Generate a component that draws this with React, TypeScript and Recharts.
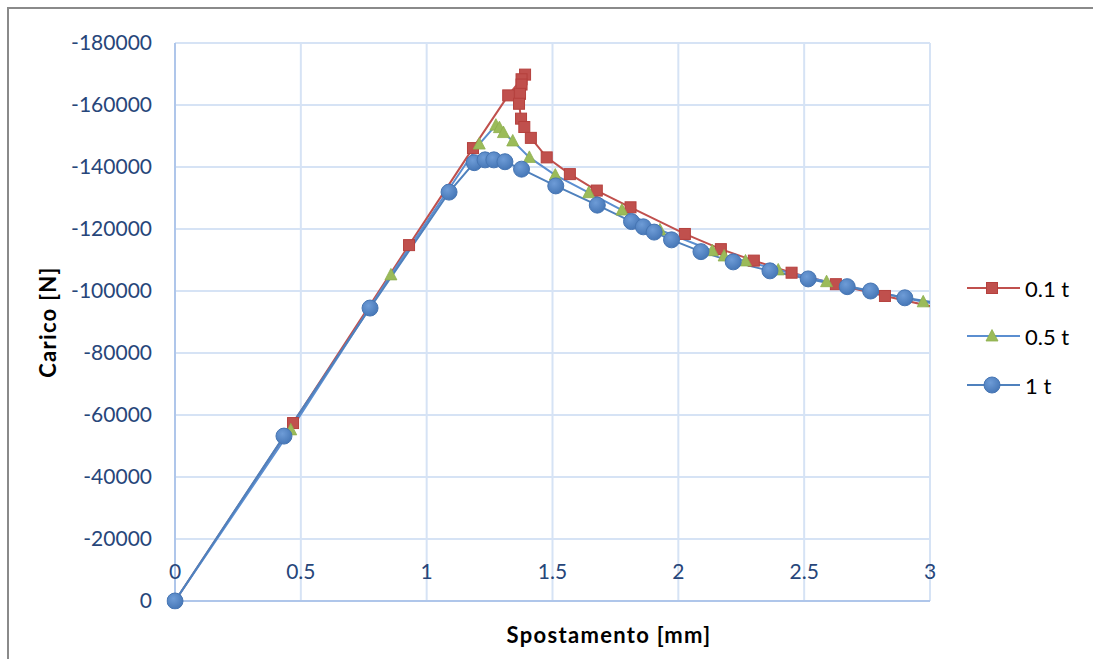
import { CartesianGrid, Line, LineChart, XAxis, YAxis } from "recharts";

// Load–displacement curves for three loading rates (load in N, negative = compression)
const DISP_01 = [0, 0.469, 0.93, 1.184, 1.324, 1.391, 1.377, 1.377, 1.371, 1.367, 1.375, 1.388, 1.414, 1.477, 1.569, 1.676, 1.81, 2.026, 2.169, 2.3, 2.45, 2.626, 2.821, 3.1];
const LOAD_01 = [0, -57400, -114800, -146100, -163100, -169800, -168300, -166600, -163600, -160400, -155600, -152900, -149400, -143100, -137700, -132400, -127000, -118400, -113500, -109800, -105900, -102200, -98400, -93300];

const DISP_05 = [0, 0.46, 0.858, 1.209, 1.275, 1.289, 1.305, 1.342, 1.408, 1.511, 1.644, 1.776, 1.927, 2.135, 2.182, 2.267, 2.397, 2.589, 2.973, 3.15];
const LOAD_05 = [0, -55200, -105200, -147400, -153500, -152700, -151100, -148400, -143100, -137400, -131700, -126100, -119700, -113000, -111300, -109700, -106800, -103000, -96500, -94200];

const DISP_1 = [0, 0.433, 0.775, 1.089, 1.189, 1.232, 1.267, 1.311, 1.377, 1.513, 1.678, 1.814, 1.861, 1.904, 1.973, 2.09, 2.218, 2.364, 2.516, 2.671, 2.764, 2.9, 3.1];
const LOAD_1 = [0, -53200, -94500, -131900, -141400, -142300, -142300, -141700, -139300, -133900, -127700, -122400, -120700, -119000, -116500, -112700, -109400, -106500, -103900, -101400, -100000, -97800, -95200];

const SERIES_NAMES = ["0.1 t", "0.5 t", "1 t"];
const X_TICKS = [0, 0.5, 1, 1.5, 2, 2.5, 3];
const Y_TICKS = [-180000, -160000, -140000, -120000, -100000, -80000, -60000, -40000, -20000, 0];

const toPoints = (xs: number[], ys: number[]) => xs.map((x, i) => ({ x, y: ys[i] }));

const data01 = toPoints(DISP_01, LOAD_01);
const data05 = toPoints(DISP_05, LOAD_05);
const data1 = toPoints(DISP_1, LOAD_1);

const FONT = "Lato, 'Open Sans', sans-serif";
const TICK_COLOR = "#27467A";
const RED = "#C0504D";
const BLUE = "#4F81BD";
const GREEN = "#9BBB59";

const W = 1085;
const H = 651;

function SquareDot(props: any) {
  const { cx, cy } = props;
  if (cx == null || cy == null) return <g />;
  return <rect x={cx - 5.5} y={cy - 5.5} width={11} height={11} fill={RED} stroke="#B5403D" strokeWidth={1} />;
}

function TriangleDot(props: any) {
  const { cx, cy } = props;
  if (cx == null || cy == null) return <g />;
  return <polygon points={`${cx},${cy - 6.5} ${cx - 6},${cy + 5} ${cx + 6},${cy + 5}`} fill={GREEN} stroke="#8DAE4C" strokeWidth={0.8} />;
}

function CircleDot({ cx, cy }: { cx: number; cy: number }) {
  return <circle cx={cx} cy={cy} r={8} fill="url(#dotBlue)" stroke="#4675B3" strokeWidth={1} />;
}

function XTick({ x, y, payload }: any) {
  return (
    <text x={x} y={y - 31} textAnchor="middle" dominantBaseline="central" fill={TICK_COLOR} fontSize={21} fontFamily={FONT}>
      {payload.value}
    </text>
  );
}

const LEGEND_ROWS = [
  { y: 280, color: RED, dot: <SquareDot cx={984} cy={280} /> },
  { y: 328, color: "#5B8ED0", dot: <TriangleDot cx={984} cy={328} /> },
  { y: 377, color: BLUE, dot: <CircleDot cx={984} cy={377} /> },
];

const TITLE_STYLE = { fontSize: 22, fontWeight: "bold" as const, fill: "#000", fontFamily: FONT, letterSpacing: 1.3 };

export default function App() {
  // fixed so the frame can run to the window edge without adding scrollbars
  return (
    <div style={{ position: "fixed", left: 8, top: 8, width: W, height: H, background: "#fff", fontFamily: FONT }}>
      <svg width={0} height={0} style={{ position: "absolute" }}>
        <defs>
          <radialGradient id="dotBlue" cx="40%" cy="35%" r="70%">
            <stop offset="0" stopColor="#6E9CD7" />
            <stop offset="1" stopColor="#4475B5" />
          </radialGradient>
        </defs>
      </svg>
      <LineChart width={W} height={H} margin={{ top: 35, right: 163, bottom: 0, left: 17 }}>
        <CartesianGrid stroke="#D6E3F5" strokeWidth={2} />
        <XAxis
          dataKey="x"
          type="number"
          domain={[0, 3]}
          allowDataOverflow
          ticks={X_TICKS}
          interval={0}
          height={58}
          tickLine={false}
          tickSize={0}
          tickMargin={0}
          axisLine={{ stroke: "#AFC6EA", strokeWidth: 2 }}
          tick={<XTick />}
        />
        <YAxis
          type="number"
          domain={[-180000, 0]}
          reversed
          ticks={Y_TICKS}
          interval={0}
          width={150}
          tickLine={false}
          tickSize={0}
          tickMargin={23}
          axisLine={{ stroke: "#AFC6EA", strokeWidth: 2 }}
          tick={{ fill: TICK_COLOR, fontSize: 21, fontFamily: FONT }}
        />
        <Line
          data={data01}
          dataKey="y"
          name={SERIES_NAMES[0]}
          stroke={RED}
          strokeWidth={2}
          dot={(p: any) => <SquareDot key={`s-${p.index}`} {...p} />}
          activeDot={false}
          isAnimationActive={false}
        />
        <Line
          data={data05}
          dataKey="y"
          name={SERIES_NAMES[1]}
          stroke="#5B8ED0"
          strokeWidth={2}
          dot={(p: any) => <TriangleDot key={`t-${p.index}`} {...p} />}
          activeDot={false}
          isAnimationActive={false}
        />
        <Line
          data={data1}
          dataKey="y"
          name={SERIES_NAMES[2]}
          stroke={BLUE}
          strokeWidth={2}
          dot={{ r: 8, fill: "url(#dotBlue)", stroke: "#4675B3", strokeWidth: 1, clipDot: false }}
          activeDot={false}
          isAnimationActive={false}
        />
      </LineChart>
      <svg width={W} height={H} style={{ position: "absolute", left: 0, top: 0, pointerEvents: "none" }}>
        <text x={39} y={314} transform="rotate(-90 39 314)" textAnchor="middle" dominantBaseline="central" {...TITLE_STYLE}>
          Carico [N]
        </text>
        <text x={601} y={626} textAnchor="middle" dominantBaseline="central" {...TITLE_STYLE}>
          Spostamento [mm]
        </text>
        {LEGEND_ROWS.map((row, i) => (
          <g key={SERIES_NAMES[i]}>
            <line x1={959} x2={1012} y1={row.y} y2={row.y} stroke={row.color} strokeWidth={2} />
            {row.dot}
            <text x={1017} y={row.y} dominantBaseline="central" fontSize={22} fill="#000" fontFamily={FONT}>
              {SERIES_NAMES[i]}
            </text>
          </g>
        ))}
      </svg>
      <div style={{ position: "absolute", left: -1, top: -1, right: 0, bottom: 0, borderTop: "2px solid #8a8a8a", borderLeft: "2px solid #8a8a8a", pointerEvents: "none" }} />
    </div>
  );
}
